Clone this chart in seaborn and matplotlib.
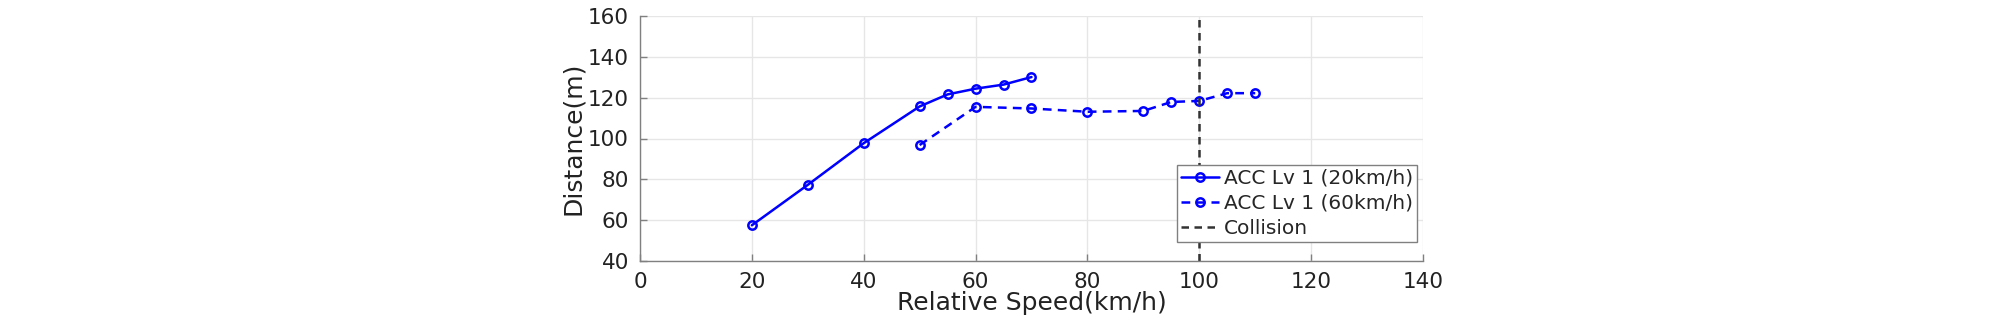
import matplotlib
matplotlib.use("Agg")
import matplotlib.pyplot as plt
import seaborn as sns
import pandas as pd

speed_20 = [20, 30, 40, 50, 55, 60, 65, 70]
dist_20 = [57.5, 77.3, 97.7, 115.7, 121.6, 124.4, 126.4, 130.1]
speed_60 = [50, 60, 70, 80, 90, 95, 100, 105, 110]
dist_60 = [96.8, 115.5, 114.7, 113.1, 113.5, 117.9, 118.4, 122.2, 122.2]
collision_speed = 100
label_20 = "ACC Lv 1 (20km/h)"
label_60 = "ACC Lv 1 (60km/h)"
label_col = "Collision"
x_ticks = [0, 20, 40, 60, 80, 100, 120, 140]
y_ticks = [40, 60, 80, 100, 120, 140, 160]

sns.set_theme(style="whitegrid")
plt.rcParams['font.family'] = ['DejaVu Sans']

fig = plt.figure(figsize=(20.08, 3.24), dpi=100)
ax = fig.add_axes([640/2008, 1-261/324, 783/2008, 245/324])

df20 = pd.DataFrame({"x": speed_20, "y": dist_20})
df60 = pd.DataFrame({"x": speed_60, "y": dist_60})

sns.lineplot(data=df20, x="x", y="y", ax=ax, color="#0000ff", lw=1.8,
             marker="o", markersize=6, markerfacecolor="none",
             markeredgecolor="#0000ff", markeredgewidth=1.8, label=label_20)
sns.lineplot(data=df60, x="x", y="y", ax=ax, color="#0000ff", lw=1.8,
             linestyle=(0, (3.5, 2.5)), marker="o", markersize=6,
             markerfacecolor="none", markeredgecolor="#0000ff",
             markeredgewidth=1.8, label=label_60)
ax.axvline(collision_speed, color="#333333", lw=1.8, linestyle=(0, (3, 2.2)),
           label=label_col)

ax.set_xlim(0, 140)
ax.set_ylim(40, 160)
ax.set_xticks(x_ticks)
ax.set_yticks(y_ticks)
ax.grid(True, color="#e6e6e6", lw=1.0)
ax.set_facecolor("white")
for s in ["top", "right"]:
    ax.spines[s].set_visible(False)
for s in ["left", "bottom"]:
    ax.spines[s].set_visible(True)
    ax.spines[s].set_color("#808080")
    ax.spines[s].set_linewidth(1.0)
ax.tick_params(axis="both", direction="in", length=5, width=1.0,
               color="#808080", labelsize=15.5, labelcolor="#222222", pad=8,
               bottom=True, left=True)
ax.set_xlabel("Relative Speed(km/h)", fontsize=18, color="#222222", labelpad=-1)
ax.set_ylabel("Distance(m)", fontsize=18, color="#222222", labelpad=2)

leg = ax.legend(loc="lower right", bbox_to_anchor=(0.992, 0.078),
                borderaxespad=0, fontsize=14.5, frameon=True, fancybox=False,
                edgecolor="#808080", framealpha=1, handlelength=1.85,
                handletextpad=0.25, labelspacing=0.3, borderpad=0.2)
leg.get_frame().set_linewidth(1.0)

fig.savefig("out.png", dpi=100, facecolor="white")
